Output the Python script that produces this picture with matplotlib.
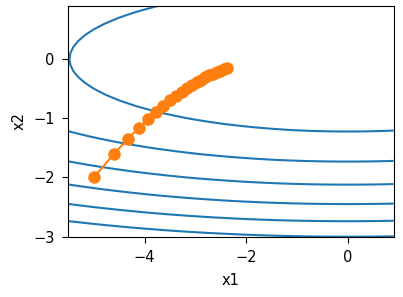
import numpy as np
import matplotlib
matplotlib.use('Agg')
import matplotlib.pyplot as plt

plt.rcParams['font.size'] = 10.5

# Trajectory points (x1, x2)
traj_x1 = [-5.0, -4.6, -4.329, -4.114, -3.932, -3.773, -3.630, -3.500, -3.380, -3.269,
           -3.166, -3.068, -2.976, -2.889, -2.807, -2.728, -2.653, -2.581, -2.512, -2.446, -2.383]
traj_x2 = [-2.0, -1.6, -1.350, -1.164, -1.014, -0.891, -0.786, -0.696, -0.618, -0.549,
           -0.489, -0.436, -0.389, -0.347, -0.310, -0.277, -0.248, -0.222, -0.198, -0.177, -0.159]

# Contour surface f(x1, x2) = 0.1*x1^2 + 2*x2^2 and its levels
coef_x1 = 0.1
coef_x2 = 2.0
levels = [3, 6, 9, 12, 15, 18]

x1_grid, x2_grid = np.meshgrid(np.arange(-5.5, 1.0, 0.1), np.arange(-3.0, 1.0, 0.1))
f_grid = coef_x1 * x1_grid ** 2 + coef_x2 * x2_grid ** 2

fig = plt.figure(figsize=(4.03, 2.97), dpi=100)
ax = fig.add_axes([0.1695, 0.203, 0.8074, 0.7778])

ax.contour(x1_grid, x2_grid, f_grid, levels=levels, colors='#1f77b4', linewidths=1.5)
ax.plot(traj_x1, traj_x2, '-o', color='#ff7f0e', markersize=8)

ax.set_xlim(-5.5, 0.9)
ax.set_ylim(-3.0, 0.9)
ax.set_xticks([-4, -2, 0])
ax.set_yticks([-3, -2, -1, 0])
ax.tick_params(length=4.3, pad=5.5)
ax.set_xlabel('x1', labelpad=5.5)
ax.set_ylabel('x2', labelpad=4.5)

fig.savefig('out.png', dpi=100)
